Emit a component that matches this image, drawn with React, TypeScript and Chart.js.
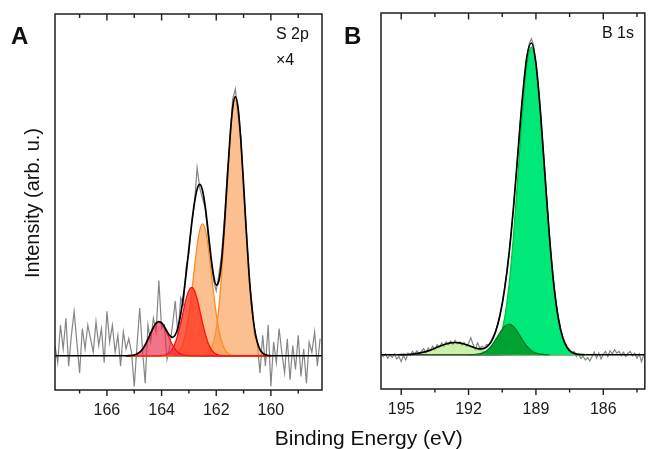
import React, { useEffect, useRef } from 'react';
import { Chart, registerables } from 'chart.js';

Chart.register(...registerables);
Chart.defaults.font.family = "'Liberation Sans', Arial, sans-serif";

// ---------------- Panel A : S 2p (x4) ----------------
const energyA = [
  167.9, 167.8, 167.7, 167.6, 167.5, 167.4, 167.3, 167.2, 167.1, 167.0,
  166.9, 166.8, 166.7, 166.6, 166.5, 166.4, 166.3, 166.2, 166.1, 166.0,
  165.9, 165.8, 165.7, 165.6, 165.5, 165.4, 165.3, 165.2, 165.1, 165.0,
  164.9, 164.8, 164.7, 164.6, 164.5, 164.4, 164.3, 164.2, 164.1, 164.0,
  163.9, 163.8, 163.7, 163.6, 163.5, 163.4, 163.3, 163.2, 163.1, 163.0,
  162.9, 162.8, 162.7, 162.6, 162.5, 162.4, 162.3, 162.2, 162.1, 162.0,
  161.9, 161.8, 161.7, 161.6, 161.5, 161.4, 161.3, 161.2, 161.1, 161.0,
  160.9, 160.8, 160.7, 160.6, 160.5, 160.4, 160.3, 160.2, 160.1, 160.0,
  159.9, 159.8, 159.7, 159.6, 159.5, 159.4, 159.3, 159.2, 159.1, 159.0,
  158.9, 158.8, 158.7, 158.6, 158.5, 158.4, 158.3, 158.2,
];
const countsA = [
  0.3, -0.2, 0.9, 0.2, 1.1, -0.3, 0.6, 1.3, 0.4, -0.5,
  0.8, 0.2, 0.9, 0.5, 0.1, 1.0, 0.3, 0.8, -0.2, 1.3,
  0.4, 0.9, 0.1, 0.6, -0.3, 0.7, 0.2, 0.5, 0.1, -0.9,
  0.3, 1.4, 0.2, -0.8, 0.9, 0.4, 1.1, 0.7, 2.2, 0.8,
  0.9, -0.1, 0.3, 0.9, 1.6, 0.6, 1.7, 1.5, 2.6, 3.0,
  3.9, 4.4, 5.5, 4.9, 4.6, 4.3, 3.5, 2.8, 2.2, 1.9,
  2.4, 3.0, 4.0, 5.3, 6.2, 7.5, 7.8, 7.0, 6.4, 4.8,
  3.7, 2.2, 1.6, 0.6, 0.4, -0.5, 0.6, -0.3, 0.9, -0.9,
  0.4, -0.2, 0.8, 0.1, -0.5, 0.5, -0.7, 0.3, -0.4, 0.6,
  -0.6, 0.2, -0.8, 0.4, 0.1, 0.7, -0.3, 0.5,
];
const fitEnergyA = [
  165.3, 165.2, 165.1, 165.0, 164.9, 164.8, 164.7, 164.6, 164.5, 164.4,
  164.3, 164.2, 164.1, 164.0, 163.9, 163.8, 163.7, 163.6, 163.5, 163.4,
  163.3, 163.2, 163.1, 163.0, 162.9, 162.8, 162.7, 162.6, 162.5, 162.4,
  162.3, 162.2, 162.1, 162.0, 161.9, 161.8, 161.7, 161.6, 161.5, 161.4,
  161.3, 161.2, 161.1, 161.0, 160.9, 160.8, 160.7, 160.6, 160.5, 160.4,
  160.3, 160.2, 160.1, 160.0,
];
const peak1A = [
  0.001, 0.004, 0.010, 0.024, 0.053, 0.105, 0.191, 0.317, 0.48, 0.662,
  0.832, 0.955, 1.0, 0.955, 0.832, 0.662, 0.48, 0.317, 0.191, 0.105,
  0.053, 0.024, 0.010, 0.004, 0.001, 0, 0, 0, 0, 0,
  0, 0, 0, 0, 0, 0, 0, 0, 0, 0,
  0, 0, 0, 0, 0, 0, 0, 0, 0, 0,
  0, 0, 0, 0,
];
const peak2A = [
  0, 0, 0, 0, 0, 0, 0, 0, 0, 0,
  0, 0, 0.003, 0.008, 0.020, 0.049, 0.106, 0.21, 0.382, 0.634,
  0.96, 1.324, 1.664, 1.91, 2.0, 1.91, 1.664, 1.324, 0.96, 0.634,
  0.382, 0.21, 0.106, 0.049, 0.020, 0.008, 0.003, 0, 0, 0,
  0, 0, 0, 0, 0, 0, 0, 0, 0, 0,
  0, 0, 0, 0,
];
const peak3A = [
  0, 0, 0, 0, 0, 0, 0, 0, 0, 0,
  0, 0, 0, 0, 0, 0, 0.005, 0.015, 0.039, 0.094,
  0.205, 0.405, 0.737, 1.224, 1.853, 2.555, 3.212, 3.686, 3.86, 3.686,
  3.212, 2.555, 1.853, 1.224, 0.737, 0.405, 0.205, 0.094, 0.039, 0.015,
  0.005, 0, 0, 0, 0, 0, 0, 0, 0, 0,
  0, 0, 0, 0,
];
const peak4A = [
  0, 0, 0, 0, 0, 0, 0, 0, 0, 0,
  0, 0, 0, 0, 0, 0, 0, 0, 0, 0,
  0, 0, 0, 0, 0, 0, 0, 0.003, 0.010, 0.030,
  0.077, 0.184, 0.402, 0.796, 1.448, 2.403, 3.638, 5.018, 6.307, 7.239,
  7.58, 7.239, 6.307, 5.018, 3.638, 2.403, 1.448, 0.796, 0.402, 0.184,
  0.077, 0.030, 0.010, 0.003,
];
const envelopeA = [
  0.001, 0.004, 0.010, 0.024, 0.053, 0.105, 0.191, 0.317, 0.48, 0.662,
  0.832, 0.955, 1.003, 0.963, 0.852, 0.711, 0.591, 0.542, 0.612, 0.833,
  1.218, 1.753, 2.411, 3.138, 3.854, 4.465, 4.876, 5.013, 4.83, 4.35,
  3.671, 2.949, 2.361, 2.069, 2.205, 2.816, 3.846, 5.112, 6.346, 7.254,
  7.585, 7.239, 6.307, 5.018, 3.638, 2.403, 1.448, 0.796, 0.402, 0.184,
  0.077, 0.030, 0.010, 0.003,
];
const baselineEnergyA = [167.9, 158.13];
const baselineValuesA = [0, 0];
const ticksA = { min: 158.13, max: 167.9, step: 1, labelEvery: 2 };

// ---------------- Panel B : B 1s ----------------
const energyB = [
  195.9, 195.8, 195.7, 195.6, 195.5, 195.4, 195.3, 195.2, 195.1, 195.0,
  194.9, 194.8, 194.7, 194.6, 194.5, 194.4, 194.3, 194.2, 194.1, 194.0,
  193.9, 193.8, 193.7, 193.6, 193.5, 193.4, 193.3, 193.2, 193.1, 193.0,
  192.9, 192.8, 192.7, 192.6, 192.5, 192.4, 192.3, 192.2, 192.1, 192.0,
  191.9, 191.8, 191.7, 191.6, 191.5, 191.4, 191.3, 191.2, 191.1, 191.0,
  190.9, 190.8, 190.7, 190.6, 190.5, 190.4, 190.3, 190.2, 190.1, 190.0,
  189.9, 189.8, 189.7, 189.6, 189.5, 189.4, 189.3, 189.2, 189.1, 189.0,
  188.9, 188.8, 188.7, 188.6, 188.5, 188.4, 188.3, 188.2, 188.1, 188.0,
  187.9, 187.8, 187.7, 187.6, 187.5, 187.4, 187.3, 187.2, 187.1, 187.0,
  186.9, 186.8, 186.7, 186.6, 186.5, 186.4, 186.3, 186.2, 186.1, 186.0,
  185.9, 185.8, 185.7, 185.6, 185.5, 185.4, 185.3, 185.2, 185.1, 185.0,
  184.9, 184.8, 184.7, 184.6, 184.5, 184.4, 184.3, 184.2,
];
const countsB = [
  0.05, -0.05, 0.02, -0.1, 0.0, -0.08, 0.03, -0.12, -0.05, -0.2,
  -0.02, -0.15, 0.05, -0.02, 0.1, 0.02, 0.12, 0.03, 0.1, 0.18,
  0.05, 0.2, 0.12, 0.25, 0.15, 0.3, 0.22, 0.35, 0.25, 0.38,
  0.3, 0.4, 0.3, 0.42, 0.32, 0.38, 0.28, 0.36, 0.25, 0.33,
  0.5, 0.3, 0.15, 0.35, 0.2, 0.25, 0.2, 0.3, 0.3, 0.42,
  0.55, 0.7, 0.9, 1.2, 1.5, 1.95, 2.4, 2.95, 3.6, 4.3,
  5.1, 5.9, 6.8, 7.5, 8.2, 8.75, 9.1, 9.25, 9.05, 8.5,
  7.9, 7.1, 6.2, 5.3, 4.35, 3.5, 2.7, 2.05, 1.5, 1.05,
  0.75, 0.5, 0.35, 0.22, 0.15, 0.05, 0.1, -0.05, 0.02, -0.1,
  -0.05, -0.15, -0.08, -0.18, -0.05, 0.08, -0.1, 0.05, -0.12, 0.02,
  0.1, -0.05, 0.12, 0.03, 0.15, 0.05, 0.1, -0.02, 0.08, -0.05,
  0.05, 0.1, -0.03, 0.05, -0.1, 0.03, -0.2, 0.0,
];
const fitEnergyB = [
  195.2, 195.0, 194.8, 194.6, 194.4, 194.2, 194.0, 193.8, 193.6, 193.4,
  193.2, 193.0, 192.8, 192.6, 192.4, 192.2, 192.0, 191.8, 191.6, 191.4,
  191.2, 191.0, 190.8, 190.6, 190.4, 190.2, 190.0, 189.8, 189.6, 189.4,
  189.2, 189.0, 188.8, 188.6, 188.4, 188.2, 188.0, 187.8, 187.6, 187.4,
  187.2, 187.0, 186.8,
];
const broadB = [
  0.002, 0.004, 0.008, 0.016, 0.029, 0.049, 0.078, 0.117, 0.165, 0.219,
  0.272, 0.318, 0.349, 0.36, 0.349, 0.318, 0.272, 0.219, 0.165, 0.117,
  0.078, 0.049, 0.029, 0.016, 0.008, 0.004, 0.002, 0.001, 0, 0,
  0, 0, 0, 0, 0, 0, 0, 0, 0, 0,
  0, 0, 0,
];
const shoulderB = [
  null, null, null, null, null, null, null, null, null, null,
  null, null, null, null, null, null, 0.001, 0.005, 0.018, 0.050,
  0.122, 0.250, 0.438, 0.653, 0.831, 0.9, 0.831, 0.653, 0.438, 0.250,
  0.122, 0.050, 0.018, 0.005, 0.001, null, null, null, null, null,
  null, null, null,
];
const mainB = [
  null, null, null, null, null, null, null, null, null, null,
  null, null, null, null, null, null, null, null, null, 0.007,
  0.023, 0.073, 0.201, 0.489, 1.062, 2.034, 3.474, 5.274, 7.092, 8.478,
  9.0, 8.478, 7.092, 5.274, 3.474, 2.034, 1.062, 0.489, 0.201, 0.073,
  0.023, 0.007, 0.002,
];
const envelopeB = [
  0.002, 0.004, 0.008, 0.016, 0.029, 0.049, 0.078, 0.117, 0.165, 0.219,
  0.272, 0.318, 0.349, 0.36, 0.349, 0.318, 0.273, 0.224, 0.183, 0.174,
  0.223, 0.372, 0.668, 1.158, 1.901, 2.938, 4.307, 5.928, 7.53, 8.728,
  9.122, 8.528, 7.11, 5.279, 3.475, 2.034, 1.062, 0.489, 0.201, 0.073,
  0.023, 0.007, 0.002,
];
const baselineEnergyB = [195.9, 184.15];
const baselineValuesB = [0, 0];
const ticksB = { min: 184.15, max: 195.9, step: 1.5, labelEvery: 3 };

const yRange = { min: -1, max: 10 };

// ---------------- helpers ----------------
const FONT = "'Liberation Sans', Arial, sans-serif";

function pts(xs: number[], ys: (number | null)[]) {
  return xs.map((x, i) => ({ x, y: ys[i] }));
}

const frameTicksPlugin = {
  id: 'frameTicks',
  afterDraw(chart: any) {
    const { ctx, chartArea } = chart;
    const { left, right, top, bottom } = chartArea;
    const xs = chart.scales.x;
    ctx.save();
    ctx.strokeStyle = '#1e1e1e';
    ctx.lineWidth = 1.4;
    ctx.beginPath();
    xs.ticks.forEach((t: any) => {
      const px = xs.getPixelForValue(t.value);
      if (px < left + 1 || px > right - 1) return;
      const major = t.label !== '';
      const lb = major ? 6 : 3.5;
      const lt = major ? 6.5 : 4;
      ctx.moveTo(px, bottom);
      ctx.lineTo(px, bottom + lb);
      ctx.moveTo(px, top);
      ctx.lineTo(px, top + lt);
    });
    ctx.stroke();
    ctx.lineWidth = 1.5;
    ctx.strokeRect(left, top, right - left, bottom - top);
    ctx.restore();
  },
};

function makeOptions(t: { min: number; max: number; step: number; labelEvery: number }, pad: any, axisH: number) {
  return {
    animation: false as const,
    responsive: false,
    maintainAspectRatio: false,
    layout: { padding: pad },
    plugins: { legend: { display: false }, tooltip: { enabled: false } },
    elements: { point: { radius: 0 } },
    scales: {
      x: {
        type: 'linear' as const,
        reverse: true,
        min: t.min,
        max: t.max,
        grid: { display: false, drawTicks: false },
        border: { display: false },
        ticks: {
          stepSize: t.step,
          autoSkip: false,
          maxRotation: 0,
          includeBounds: false,
          padding: 11,
          color: '#1a1a1a',
          font: { size: 16, family: FONT },
          callback: (v: any) => {
            const r = Math.abs(v / t.labelEvery - Math.round(v / t.labelEvery));
            return r < 1e-6 ? String(Math.round(v)) : '';
          },
        },
        afterFit: (s: any) => {
          s.height = axisH;
        },
      },
      y: { type: 'linear' as const, display: false, min: yRange.min, max: yRange.max },
    },
  };
}

function line(data: any, color: string, width: number, order: number, extra: any = {}) {
  return {
    data,
    borderColor: color,
    borderWidth: width,
    order,
    fill: false,
    pointRadius: 0,
    ...extra,
  };
}

function PanelA() {
  const ref = useRef<HTMLCanvasElement>(null);
  useEffect(() => {
    const smooth = { cubicInterpolationMode: 'monotone' };
    const chart = new Chart(ref.current!, {
      type: 'line',
      data: {
        datasets: [
          line(pts(fitEnergyA, envelopeA), '#000000', 1.7, 1, smooth),
          line(pts(fitEnergyA, peak1A), '#ff1010', 1.3, 3, { ...smooth, fill: 'origin', backgroundColor: 'rgba(240,40,70,0.65)' }),
          line(pts(fitEnergyA, peak2A), '#ff1010', 1.3, 4, { ...smooth, fill: 'origin', backgroundColor: 'rgba(255,50,30,0.78)' }),
          line(pts(fitEnergyA, peak3A), '#ff8a1e', 1.3, 5, { ...smooth, fill: 'origin', backgroundColor: 'rgba(250,150,70,0.6)' }),
          line(pts(fitEnergyA, peak4A), '#ff8a1e', 1.3, 6, { ...smooth, fill: 'origin', backgroundColor: 'rgba(250,150,70,0.6)' }),
          line(pts(baselineEnergyA, baselineValuesA), '#000000', 1.5, 7),
          line(pts(energyA, countsA), '#858585', 1.2, 8),
        ] as any,
      },
      options: makeOptions(ticksA, { left: 55, right: 8, top: 14, bottom: 0 }, 59) as any,
      plugins: [frameTicksPlugin],
    });
    return () => chart.destroy();
  }, []);
  return <canvas ref={ref} width={330} height={449} style={{ position: 'absolute', left: 0, top: 0 }} />;
}

function PanelB() {
  const ref = useRef<HTMLCanvasElement>(null);
  useEffect(() => {
    const smooth = { cubicInterpolationMode: 'monotone' };
    const chart = new Chart(ref.current!, {
      type: 'line',
      data: {
        datasets: [
          line(pts(fitEnergyB, envelopeB), '#000000', 1.7, 1, smooth),
          line(pts(fitEnergyB, shoulderB), '#00701e', 1.2, 3, { ...smooth, fill: 'origin', backgroundColor: '#00a232' }),
          line(pts(fitEnergyB, mainB), '#00c83c', 1.3, 4, { ...smooth, fill: 'origin', backgroundColor: '#00e878' }),
          line(pts(fitEnergyB, broadB), '#a6e07a', 1.3, 5, { ...smooth, fill: 'origin', backgroundColor: 'rgba(150,225,90,0.5)' }),
          line(pts(baselineEnergyB, baselineValuesB), '#000000', 1.5, 6),
          line(pts(energyB, countsB), '#858585', 1.2, 7),
        ] as any,
      },
      options: makeOptions(ticksB, { left: 51, right: 1, top: 13, bottom: 0 }, 60) as any,
      plugins: [frameTicksPlugin],
    });
    return () => chart.destroy();
  }, []);
  return <canvas ref={ref} width={318} height={449} style={{ position: 'absolute', left: 330, top: 0 }} />;
}

const txt = (s: any): React.CSSProperties => ({
  position: 'absolute',
  fontFamily: FONT,
  color: '#111',
  whiteSpace: 'nowrap',
  margin: 0,
  ...s,
});

export default function App() {
  return (
    <div style={{ position: 'absolute', left: 0, top: 0, width: 648, height: 449, background: '#fff', overflow: 'hidden' }}>
      <PanelA />
      <PanelB />
      <div style={txt({ left: 11, top: 24, fontSize: 24, lineHeight: '24px', fontWeight: 'bold' })}>A</div>
      <div style={txt({ left: 344, top: 23.5, fontSize: 24, lineHeight: '24px', fontWeight: 'bold' })}>B</div>
      <div style={txt({ left: 276, top: 25.5, fontSize: 16, lineHeight: '16px' })}>S 2p</div>
      <div style={txt({ left: 276, top: 51.5, fontSize: 16, lineHeight: '16px' })}>×4</div>
      <div style={txt({ left: 602, top: 24.5, fontSize: 16, lineHeight: '16px' })}>B 1s</div>
      <div style={txt({ left: 368.7, top: 426.5, fontSize: 21, lineHeight: '21px', transform: 'translateX(-50%)' })}>
        Binding Energy (eV)
      </div>
      <div
        style={txt({
          left: 32.4,
          top: 202.5,
          fontSize: 20,
          lineHeight: '20px',
          transform: 'translate(-50%, -50%) rotate(-90deg)',
        })}
      >
        Intensity (arb. u.)
      </div>
    </div>
  );
}
